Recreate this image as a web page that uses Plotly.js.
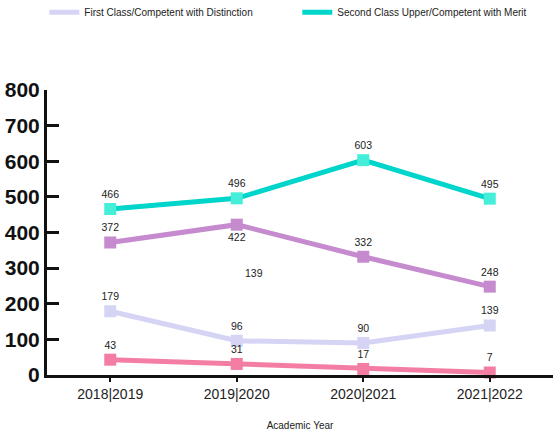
<!DOCTYPE html>
<html><head><meta charset="utf-8">
<script src="https://cdn.plot.ly/plotly-3.0.1.min.js"></script>
<style>html,body{margin:0;padding:0;background:#fff}#chart{width:554px;height:434px}</style>
</head><body><div id="chart"></div>
<script>
const years = ["2018|2019", "2019|2020", "2020|2021", "2021|2022"];
const secondUpper = [466, 496, 603, 495];
const secondLower = [372, 422, 332, 248];
const firstClass = [179, 96, 90, 139];
const thirdClass = [43, 31, 17, 7];
const yTicks = [0, 100, 200, 300, 400, 500, 600, 700, 800];
const strayLabel = {text: "139", x: 1.14, y: 286};

const FONT = "'Liberation Sans', Arimo, Roboto, Arial, sans-serif";

function series(name, y, line, marker, pos) {
  return {
    x: years, y: y, name: name, type: "scatter", mode: "lines+markers+text",
    text: y.map(String), textposition: pos,
    textfont: {family: FONT, size: 10.5, color: "#222"},
    line: {color: line, width: 5},
    marker: {symbol: "square", size: 12, color: marker},
    showlegend: false, cliponaxis: false
  };
}
function legendOnly(name, color) {
  return {x: [null], y: [null], name: name, type: "scatter", mode: "lines",
    line: {color: color, width: 5}, showlegend: true};
}
const data = [
  series("First Class/Competent with Distinction", firstClass, "#D5D4F5", "#D5D4F5", "top center"),
  series("Third", thirdClass, "#F47EA3", "#F47EA3", "top center"),
  series("Second Lower", secondLower, "#C68ACF", "#C68ACF", ["top center", "bottom center", "top center", "top center"]),
  series("Second Class Upper/Competent with Merit", secondUpper, "#00D5CB", "#45EED9", "top center"),
  legendOnly("First Class/Competent with Distinction", "#D5D4F5"),
  legendOnly("Second Class Upper/Competent with Merit", "#00D5CB")
];
const layout = {
  width: 554, height: 434,
  margin: {l: 47, r: 1, t: 90, b: 59, autoexpand: false},
  paper_bgcolor: "#fff", plot_bgcolor: "#fff",
  font: {family: FONT, color: "#222"},
  showlegend: true,
  legend: {orientation: "h", xref: "container", x: 0.08, xanchor: "left", yref: "container", y: 0.972, yanchor: "middle",
    entrywidth: 208, entrywidthmode: "pixels", traceorder: "normal",
    font: {family: FONT, size: 10, color: "#222"}},
  xaxis: {
    type: "category", range: [-0.5, 3.5], showgrid: false, zeroline: false,
    showline: true, linecolor: "#111", linewidth: 3,
    ticks: "outside", ticklen: 4, tickwidth: 2, tickcolor: "#111",
    tickfont: {family: FONT, size: 14, color: "#222"},
    title: {text: "Academic Year", font: {family: FONT, size: 10, color: "#222"}, standoff: 22}
  },
  yaxis: {
    range: [0, 800], tickvals: yTicks, showgrid: false, zeroline: false,
    showline: true, linecolor: "#111", linewidth: 3,
    ticks: "inside", ticklen: 12, tickwidth: 3, tickcolor: "#111",
    tickfont: {family: FONT, size: 21, color: "#111", weight: "bold"}
  },
  annotations: [{x: strayLabel.x, y: strayLabel.y, xref: "x", yref: "y", text: strayLabel.text,
    showarrow: false, font: {family: FONT, size: 10.5, color: "#222"}}]
};
Plotly.newPlot("chart", data, layout, {displayModeBar: false, staticPlot: true});
</script></body></html>
